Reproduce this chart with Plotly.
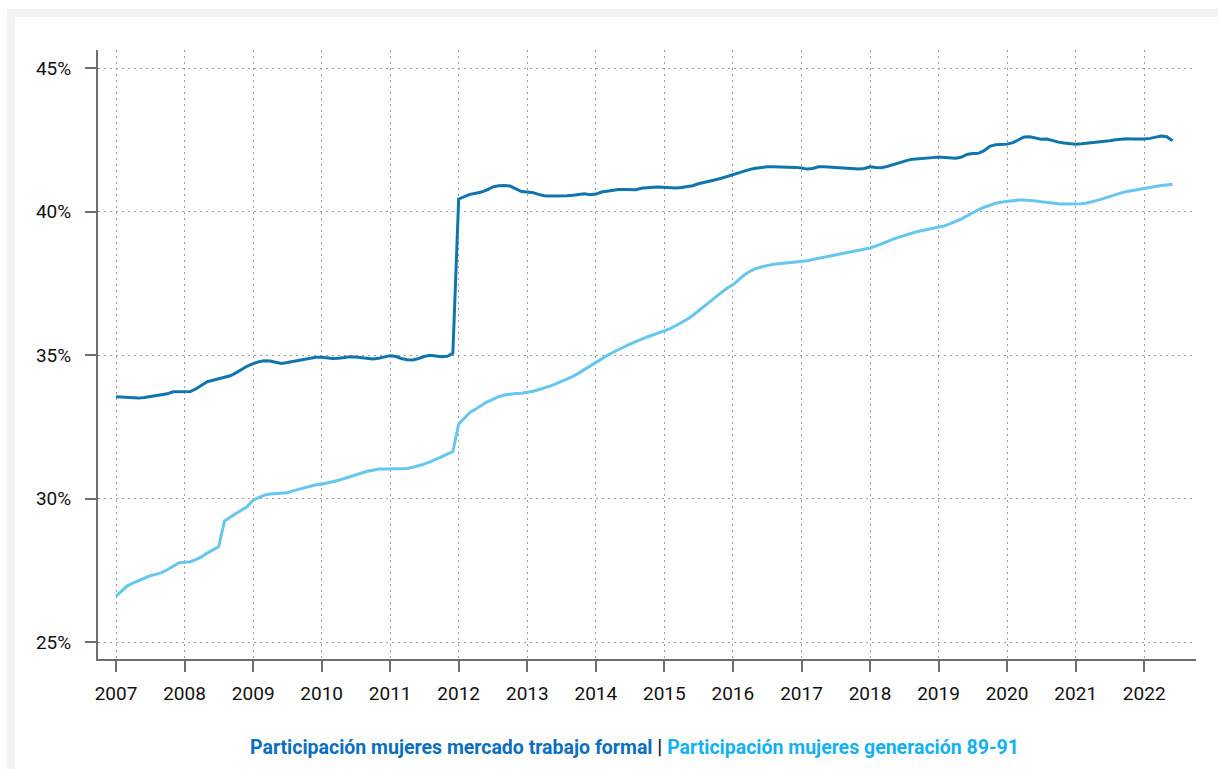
import pandas as pd
import plotly.graph_objects as go

# ---- data (monthly, Jan 2007 .. Jun 2022), values in % ----
start_month = "2007-01-01"
n_months = 186

formal = [
    # 2007
    33.55, 33.54, 33.53, 33.51, 33.50, 33.52, 33.55, 33.57, 33.60, 33.65, 33.72, 33.73,
    # 2008
    33.72, 33.73, 33.82, 33.95, 34.07, 34.12, 34.17, 34.22, 34.28, 34.38, 34.50, 34.62,
    # 2009
    34.70, 34.77, 34.80, 34.79, 34.75, 34.71, 34.74, 34.78, 34.80, 34.84, 34.88, 34.92,
    # 2010
    34.92, 34.90, 34.88, 34.89, 34.92, 34.94, 34.93, 34.91, 34.89, 34.86, 34.89, 34.94,
    # 2011
    34.98, 34.95, 34.88, 34.84, 34.83, 34.88, 34.95, 34.99, 34.97, 34.94, 34.96, 35.06,
    # 2012
    40.44, 40.52, 40.60, 40.64, 40.68, 40.76, 40.86, 40.90, 40.91, 40.89, 40.80, 40.70,
    # 2013
    40.68, 40.66, 40.60, 40.55, 40.54, 40.54, 40.54, 40.55, 40.57, 40.60, 40.62, 40.59,
    # 2014
    40.61, 40.68, 40.71, 40.74, 40.77, 40.77, 40.76, 40.76, 40.81, 40.84, 40.85, 40.86,
    # 2015
    40.85, 40.83, 40.82, 40.84, 40.86, 40.90, 40.97, 41.01, 41.06, 41.11, 41.16, 41.22,
    # 2016
    41.30, 41.37, 41.42, 41.47, 41.51, 41.54, 41.56, 41.56, 41.56, 41.55, 41.54, 41.54,
    # 2017
    41.52, 41.48, 41.50, 41.56, 41.56, 41.55, 41.54, 41.52, 41.50, 41.49, 41.48, 41.50,
    # 2018
    41.56, 41.54, 41.53, 41.57, 41.63, 41.70, 41.76, 41.81, 41.83, 41.84, 41.85, 41.88,
    # 2019
    41.90, 41.89, 41.87, 41.86, 41.89, 41.99, 42.02, 42.03, 42.12, 42.27, 42.33, 42.35,
    # 2020
    42.35, 42.40, 42.50, 42.60, 42.61, 42.57, 42.52, 42.53, 42.47, 42.42, 42.39, 42.37,
    # 2021
    42.35, 42.36, 42.38, 42.39, 42.40, 42.43, 42.47, 42.50, 42.52, 42.54, 42.53, 42.52,
    # 2022
    42.53, 42.55, 42.60, 42.63, 42.61, 42.47,
]

gen_89_91 = [
    # 2007
    26.60, 26.78, 26.95, 27.05, 27.13, 27.22, 27.31, 27.36, 27.42, 27.52, 27.64, 27.76,
    # 2008
    27.78, 27.80, 27.87, 27.97, 28.10, 28.22, 28.32, 29.22, 29.36, 29.48, 29.60, 29.72,
    # 2009
    29.95, 30.04, 30.12, 30.16, 30.18, 30.18, 30.20, 30.27, 30.32, 30.38, 30.43, 30.48,
    # 2010
    30.50, 30.54, 30.59, 30.64, 30.70, 30.76, 30.83, 30.90, 30.95, 30.99, 31.03, 31.03,
    # 2011
    31.03, 31.03, 31.04, 31.05, 31.09, 31.14, 31.20, 31.28, 31.36, 31.45, 31.55, 31.64,
    # 2012
    32.60, 32.82, 33.00, 33.12, 33.25, 33.37, 33.46, 33.55, 33.61, 33.64, 33.66, 33.67,
    # 2013
    33.70, 33.74, 33.79, 33.85, 33.92, 34.00, 34.08, 34.17, 34.26, 34.37, 34.50, 34.63,
    # 2014
    34.75, 34.87, 34.98, 35.09, 35.20, 35.29, 35.38, 35.47, 35.55, 35.63, 35.70, 35.77,
    # 2015
    35.84, 35.92, 36.02, 36.12, 36.24, 36.38, 36.53, 36.69, 36.85, 37.02, 37.18, 37.33,
    # 2016
    37.45, 37.63, 37.79, 37.92, 38.01, 38.07, 38.12, 38.16, 38.18, 38.20, 38.22, 38.23,
    # 2017
    38.25, 38.29, 38.33, 38.37, 38.41, 38.45, 38.49, 38.53, 38.56, 38.60, 38.65, 38.70,
    # 2018
    38.73, 38.80, 38.88, 38.96, 39.03, 39.10, 39.17, 39.24, 39.29, 39.33, 39.37, 39.41,
    # 2019
    39.44, 39.50, 39.57, 39.65, 39.74, 39.85, 39.96, 40.06, 40.15, 40.23, 40.29, 40.33,
    # 2020
    40.36, 40.38, 40.40, 40.40, 40.39, 40.37, 40.34, 40.31, 40.29, 40.27, 40.26, 40.26,
    # 2021
    40.26, 40.27, 40.30, 40.34, 40.40, 40.46, 40.53, 40.59, 40.65, 40.70, 40.74, 40.78,
    # 2022
    40.81, 40.85, 40.89, 40.91, 40.93, 40.95,
]

series_names = ["Participación mujeres mercado trabajo formal",
                "Participación mujeres generación 89-91"]
y_ticks = [25, 30, 35, 40, 45]
y_tick_labels = ["25%", "30%", "35%", "40%", "45%"]

dates = pd.date_range(start_month, periods=n_months, freq="MS")

# ---- styling ----
C_DARK = "#1075ad"
C_LIGHT = "#66c6f1"
C_LEG_DARK = "#0b6fc0"
C_LEG_LIGHT = "#14b1ef"
AXIS = "#6e6e73"
FONT = "Roboto, 'Noto Sans', sans-serif"

W, H = 1218, 769
ML, MR, MT, MB = 98, 22, 50, 110
PW, PH = W - ML - MR, H - MT - MB


def px_x(p):
    return (p - ML) / PW


def px_y(p):
    return (H - MB - p) / PH


fig = go.Figure()
fig.add_trace(go.Scatter(x=dates, y=formal, mode="lines", name=series_names[0],
                         line=dict(color=C_DARK, width=3)))
fig.add_trace(go.Scatter(x=dates, y=gen_89_91, mode="lines", name=series_names[1],
                         line=dict(color=C_LIGHT, width=3)))

fig.update_layout(
    width=W, height=H,
    margin=dict(l=ML, r=MR, t=MT, b=MB),
    paper_bgcolor="white",
    plot_bgcolor="rgba(0,0,0,0)",
    showlegend=False,
    font=dict(family=FONT, size=19, color="#1a1a1a"),
    shapes=[
        dict(type="rect", xref="paper", yref="paper", layer="below",
             x0=px_x(7), x1=px_x(1240), y0=px_y(790), y1=px_y(9),
             fillcolor="#f2f2f2", line=dict(width=0)),
        dict(type="rect", xref="paper", yref="paper", layer="below",
             x0=px_x(15), x1=px_x(1240), y0=px_y(790), y1=px_y(17),
             fillcolor="white", line=dict(width=0)),
    ],
    annotations=[
        dict(xref="paper", yref="paper", x=px_x(634), y=px_y(747),
             xanchor="center", yanchor="middle", showarrow=False,
             font=dict(family=FONT, size=19.5),
             text=(f"<b><span style='color:{C_LEG_DARK}'>{series_names[0]}</span>"
                   f" <span style='color:#222222'>|</span> "
                   f"<span style='color:{C_LEG_LIGHT}'>{series_names[1]}</span></b>")),
    ],
)

fig.update_xaxes(
    type="date",
    range=["2006-09-27", "2022-10-04"],
    tick0="2007-01-01", dtick="M12", tickformat="%Y",
    showline=True, linecolor=AXIS, linewidth=2,
    ticks="outside", ticklen=11, tickwidth=2, tickcolor=AXIS,
    showgrid=True, gridcolor="#9a9a9a", gridwidth=1.3, griddash="2px,4px",
    zeroline=False, ticklabelstandoff=5,
    tickfont=dict(size=19, color="#111111"),
)
fig.update_yaxes(
    range=[24.41, 45.63],
    tickvals=y_ticks, ticktext=y_tick_labels,
    showline=True, linecolor=AXIS, linewidth=2,
    ticks="outside", ticklen=11, tickwidth=2, tickcolor=AXIS,
    showgrid=True, gridcolor="#9a9a9a", gridwidth=1.3, griddash="2px,4px",
    zeroline=False, ticklabelstandoff=10,
    tickfont=dict(size=19, color="#111111"),
)

fig.write_html(
    "out.html",
    config={"displayModeBar": False},
    post_script="document.body.style.margin='0';document.body.style.overflow='hidden';",
)
